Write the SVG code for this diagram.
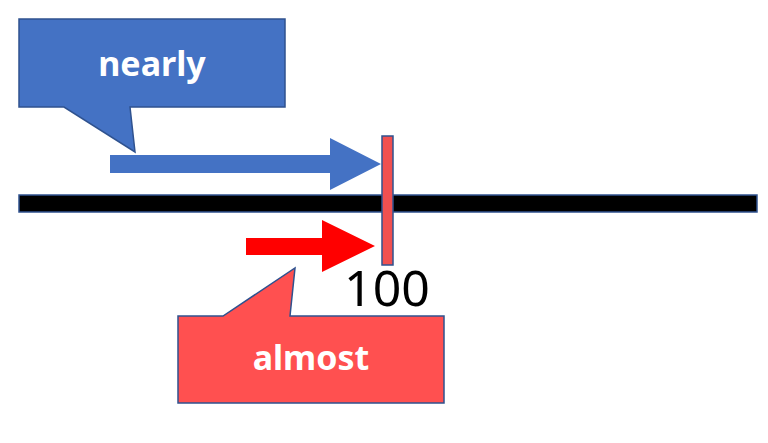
<svg xmlns="http://www.w3.org/2000/svg" width="768" height="443" viewBox="0 0 768 443">
<style>
.lbl{font-family:"Noto Sans","Liberation Sans",sans-serif;font-weight:bold;font-size:34px;fill:#fff;text-anchor:middle}
.edge{stroke:#2f528f;stroke-width:1.5}
</style>
<rect width="768" height="443" fill="#fff"/>
<g id="axis"><rect x="19" y="195" width="738" height="17" fill="#000" class="edge"/></g>
<g id="callout-nearly">
<path d="M19,19 H285 V107 H130 L135,152 L64,107 H19 Z" fill="#4472c4" class="edge"/>
<text x="152" y="76" class="lbl">nearly</text>
</g>
<g id="connectors">
<path d="M110,155 H330 V138 L381,164 L330,190 V173 H110 Z" fill="#4472c4"/>
<path d="M246,238 H322 V220 L375,246 L322,272 V255 H246 Z" fill="#ff0000"/>
</g>
<g id="tick">
<rect x="382" y="136" width="11" height="129" fill="#f05050" class="edge"/>
<text x="387" y="306" font-family="Noto Sans,sans-serif" font-size="50" text-anchor="middle" fill="#000">100</text>
</g>
<g id="callout-almost">
<path d="M178,316 H223 L295,268 L290,316 H444 V403 H178 Z" fill="#ff5050" class="edge"/>
<text x="311" y="370" class="lbl">almost</text>
</g>
</svg>
